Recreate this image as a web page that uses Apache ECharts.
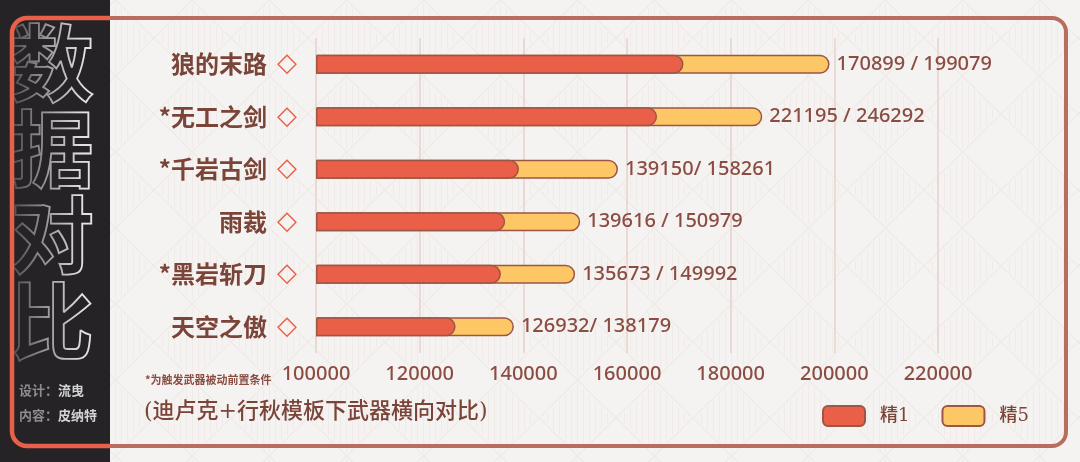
<!DOCTYPE html>
<html>
<head>
<meta charset="utf-8">
<script src="https://cdn.jsdelivr.net/npm/echarts@6/dist/echarts.min.js"></script>
<style>
html,body{margin:0;padding:0;background:#f4f2ef;}
#chartmain{width:1080px;height:462px;}
</style>
</head>
<body>
<div id="chartmain"></div>
<script>
// 武器名（从上到下）
var weapons = ['狼的末路', '*无工之剑', '*千岩古剑', '雨裁', '*黑岩斩刀', '天空之傲'];
// 条长（按图中条的末端读出）
var jing1 = [170899, 165800, 139150, 136500, 135673, 126932];
var jing5 = [199079, 186100, 158261, 150979, 149992, 138179];
// 条右侧标注文字
var valueText = ['170899 / 199079', '221195 / 246292', '139150/ 158261', '139616 / 150979', '135673 / 149992', '126932/ 138179'];
var axisMin = 100000, axisMax = 220000, axisStep = 20000;

var brown = '#8b4c42';
var dark = '#252326';
var orange = '#e8604a';

// 背景菱形花纹
function makePattern(){
	var c = document.createElement('canvas');
	var w = 77, h = 76;
	c.width = w; c.height = h;
	var g = c.getContext('2d');
	g.fillStyle = '#f5f3f1';
	g.fillRect(0, 0, w, h);
	g.save();
	g.beginPath();
	g.moveTo(w/2, 3); g.lineTo(w-3, h/2); g.lineTo(w/2, h-3); g.lineTo(3, h/2); g.closePath();
	g.clip();
	g.strokeStyle = '#f0ebe8';
	g.lineWidth = 1;
	for(var x = 8; x < w; x += 6){
		g.beginPath(); g.moveTo(x + 0.5, 0); g.lineTo(x + 0.5, h); g.stroke();
	}
	g.restore();
	g.strokeStyle = '#efe9e6';
	g.lineWidth = 1.2;
	g.beginPath();
	g.moveTo(w/2, 0); g.lineTo(w, h/2); g.lineTo(w/2, h); g.lineTo(0, h/2); g.closePath();
	g.stroke();
	return c;
}

function orangeLine(x1, y1, x2, y2){
	return {type: 'line', z: 13, silent: true,
		shape: {x1: x1, y1: y1, x2: x2, y2: y2},
		style: {stroke: orange, lineWidth: 4.5}};
}
function orangeArc(cx, cy, a0, a1){
	return {type: 'arc', z: 13, silent: true,
		shape: {cx: cx, cy: cy, r: 15, startAngle: a0, endAngle: a1},
		style: {fill: 'none', stroke: orange, lineWidth: 4.5}};
}

var myChart = echarts.init(document.getElementById('chartmain'));
var option = {
	backgroundColor: {image: makePattern(), repeat: 'repeat'},
	animation: false,
	grid: {left: 316, right: 142, top: 38, bottom: 109, containLabel: false},
	legend: {
		data: ['精1', '精5'],
		left: 817,
		top: 400,
		itemWidth: 42,
		itemHeight: 20,
		itemGap: 32,
		icon: 'roundRect',
		textStyle: {
			color: '#7a4438',
			fontSize: 18,
			fontFamily: '"DejaVu Serif", "Noto Sans CJK SC"',
			fontWeight: 500,
			padding: [0, 0, 0, 10]
		}
	},
	xAxis: {
		type: 'value',
		min: axisMin,
		max: axisMax,
		interval: axisStep,
		startValue: axisMin,
		axisLine: {show: false},
		axisTick: {show: false},
		axisLabel: {
			color: brown,
			fontSize: 20,
			fontFamily: '"Noto Sans", sans-serif',
			fontWeight: 500,
			margin: 11,
			formatter: function(v){ return String(v); }
		},
		splitLine: {lineStyle: {color: '#e6d0cb', width: 1.5}}
	},
	yAxis: {
		type: 'category',
		data: weapons,
		inverse: true,
		axisLine: {show: false},
		axisTick: {show: false},
		axisLabel: {
			margin: 19,
			formatter: function(v){ return '{n|' + v + '}{d|◇}'; },
			rich: {
				n: {
					color: '#7a4438',
					fontSize: 24,
					fontWeight: 'bold',
					fontFamily: '"Noto Sans CJK SC", sans-serif'
				},
				d: {
					color: orange,
					fontSize: 26,
					fontFamily: '"DejaVu Sans"',
					padding: [0, 0, 0, 10]
				}
			}
		}
	},
	series: [
		{
			name: '精5',
			type: 'bar',
			data: jing5,
			barWidth: 19,
			barGap: '-100%',
			itemStyle: {
				color: '#fec765',
				borderColor: '#9c5646',
				borderWidth: 1.5,
				borderRadius: [0, 10, 10, 0]
			},
			label: {
				show: true,
				position: 'right',
				distance: 7,
				color: brown,
				fontSize: 20,
				fontFamily: '"Noto Sans", sans-serif',
				fontWeight: 500,
				formatter: function(p){ return valueText[p.dataIndex]; }
			}
		},
		{
			name: '精1',
			type: 'bar',
			data: jing1,
			barWidth: 19,
			barGap: '-100%',
			itemStyle: {
				color: '#ea5f48',
				borderColor: '#9c5646',
				borderWidth: 1.5,
				borderRadius: [0, 10, 10, 0]
			}
		}
	],
	graphic: [
		// 外框
		{
			type: 'rect', z: 1, silent: true,
			shape: {x: 12, y: 18, width: 1054, height: 428, r: 14},
			style: {fill: 'none', stroke: '#b86e5e', lineWidth: 4}
		},
		// 左侧深色栏
		{
			type: 'rect', z: 10, silent: true,
			shape: {x: 0, y: 0, width: 110, height: 462},
			style: {fill: dark}
		},
		{
			type: 'text', z: 11, silent: true, x: 10, y: 20,
			style: {
				text: '数\n据\n对\n比',
				fontSize: 84, lineHeight: 86,
				fontWeight: 'bold',
				fontFamily: '"Noto Sans CJK SC"',
				fill: 'rgba(0,0,0,0)',
				stroke: '#e2e2e4',
				lineWidth: 1.8
			}
		},
		// 标题左半渐暗
		{
			type: 'rect', z: 12, silent: true,
			shape: {x: 11, y: 18, width: 72, height: 350},
			style: {
				fill: new echarts.graphic.LinearGradient(0, 0, 1, 0, [
					{offset: 0, color: 'rgba(37,35,38,0.8)'},
					{offset: 0.6, color: 'rgba(37,35,38,0.3)'},
					{offset: 1, color: 'rgba(37,35,38,0)'}
				])
			}
		},
		{
			type: 'rect', z: 12, silent: true,
			shape: {x: 0, y: 0, width: 11, height: 462},
			style: {fill: dark}
		},
		{
			type: 'text', z: 12, silent: true, x: 19, y: 378,
			style: {
				rich: {
					a: {fill: '#8d8c90', fontSize: 13, fontWeight: 'bold', fontFamily: '"Noto Sans CJK SC"'},
					b: {fill: '#d4d3d6', fontSize: 13, fontWeight: 'bold', fontFamily: '"Noto Sans CJK SC"'}
				},
				text: '{a|设计：}{b|流曳}\n{a|内容：}{b|皮纳特}',
				lineHeight: 25
			}
		},
		// 左侧橙色框线
		orangeLine(27, 18, 110, 18),
		orangeLine(27, 446, 110, 446),
		orangeLine(12, 33, 12, 431),
		orangeArc(27, 33, Math.PI, Math.PI * 1.5),
		orangeArc(27, 431, Math.PI * 0.5, Math.PI),
		// 底部说明
		{
			type: 'text', z: 5, silent: true, x: 145, y: 374,
			style: {
				text: '*为触发武器被动前置条件',
				fill: brown, fontSize: 11, fontWeight: 'bold',
				fontFamily: '"Noto Sans CJK SC"'
			}
		},
		{
			type: 'text', z: 5, silent: true, x: 144, y: 401,
			style: {
				text: '(迪卢克+行秋模板下武器横向对比)',
				fill: '#7a4438', fontSize: 22, fontWeight: 500,
				fontFamily: '"DejaVu Serif", "Noto Sans CJK SC"'
			}
		}
	]
};
myChart.setOption(option);
</script>
</body>
</html>
